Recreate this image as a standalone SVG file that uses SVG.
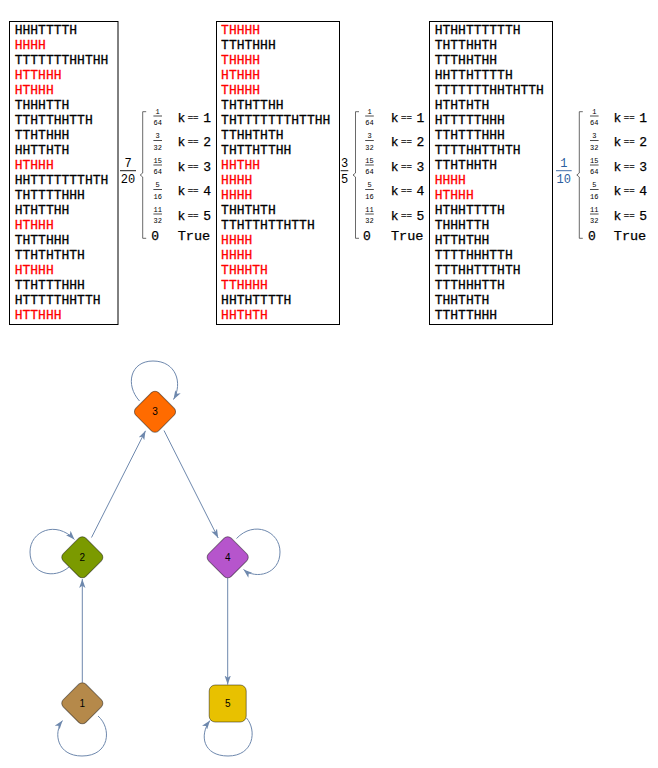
<svg xmlns="http://www.w3.org/2000/svg" width="658" height="768" viewBox="0 0 658 768">
<defs>
<style>
.box{fill:#fff;stroke:#000;stroke-width:1}
.seq{font-family:"Liberation Mono","DejaVu Sans Mono",monospace;font-size:13px;fill:#000;stroke:#000;stroke-width:0.3}
.seq .red{fill:#f00;stroke:#f00}
.pw{font-family:"Liberation Mono","DejaVu Sans Mono",monospace;fill:#000}
.sf{font-size:7px;text-anchor:middle}
.bf{font-size:12px;text-anchor:middle}
.kt{font-size:13px;stroke:#000;stroke-width:0.25}
.eq{font-size:9px}
.tr{font-size:13.5px;stroke:#000;stroke-width:0.25}
.blue{fill:#2c5fa0}
.brace{fill:none;stroke:#444;stroke-width:0.8}
.fl{stroke:#000;stroke-width:0.7}
.flb{stroke:#000;stroke-width:0.9}
.edge{fill:none;stroke:#6e88ad;stroke-width:1}
.nl{font-family:"Liberation Sans",Arial,sans-serif;font-size:10px;text-anchor:middle;fill:#000}
.node{stroke:#000;stroke-opacity:0.45;stroke-width:1}
</style>
<marker id="ah" viewBox="0 0 10 7" refX="10" refY="3.5" markerWidth="9" markerHeight="6.5" markerUnits="userSpaceOnUse" orient="auto"><path d="M0,0 L10,3.5 L0,7 L2.5,3.5 z" fill="#6e88ad"/></marker>
</defs>
<rect width="658" height="768" fill="#fff"/>

<g id="box1">
<rect class="box" x="9.5" y="21.5" width="108.5" height="303"/>
<text class="seq">
<tspan x="14.7" y="34">HHHTTTTH</tspan>
<tspan x="14.7" y="49" class="red">HHHH</tspan>
<tspan x="14.7" y="64">TTTTTTTHHTHH</tspan>
<tspan x="14.7" y="79" class="red">HTTHHH</tspan>
<tspan x="14.7" y="94" class="red">HTHHH</tspan>
<tspan x="14.7" y="109">THHHTTH</tspan>
<tspan x="14.7" y="124">TTHTTHHTTH</tspan>
<tspan x="14.7" y="139">TTHTHHH</tspan>
<tspan x="14.7" y="154">HHTTHTH</tspan>
<tspan x="14.7" y="169" class="red">HTHHH</tspan>
<tspan x="14.7" y="184">HHTTTTTTTHTH</tspan>
<tspan x="14.7" y="199">THTTTTHHH</tspan>
<tspan x="14.7" y="214">HTHTTHH</tspan>
<tspan x="14.7" y="229" class="red">HTHHH</tspan>
<tspan x="14.7" y="244">THTTHHH</tspan>
<tspan x="14.7" y="259">TTHTHTHTH</tspan>
<tspan x="14.7" y="274" class="red">HTHHH</tspan>
<tspan x="14.7" y="289">TTHTTTHHH</tspan>
<tspan x="14.7" y="304">HTTTTTHHTTH</tspan>
<tspan x="14.7" y="319" class="red">HTTHHH</tspan>
</text>
</g>

<g id="box2">
<rect class="box" x="216.5" y="21.5" width="123" height="303"/>
<text class="seq">
<tspan x="221.1" y="34" class="red">THHHH</tspan>
<tspan x="221.1" y="49">TTHTHHH</tspan>
<tspan x="221.1" y="64" class="red">THHHH</tspan>
<tspan x="221.1" y="79" class="red">HTHHH</tspan>
<tspan x="221.1" y="94" class="red">THHHH</tspan>
<tspan x="221.1" y="109">THTHTTHH</tspan>
<tspan x="221.1" y="124">THTTTTTTTHTTHH</tspan>
<tspan x="221.1" y="139">TTHHTHTH</tspan>
<tspan x="221.1" y="154">THTTHTTHH</tspan>
<tspan x="221.1" y="169" class="red">HHTHH</tspan>
<tspan x="221.1" y="184" class="red">HHHH</tspan>
<tspan x="221.1" y="199" class="red">HHHH</tspan>
<tspan x="221.1" y="214">THHTHTH</tspan>
<tspan x="221.1" y="229">TTHTTHTTHTTH</tspan>
<tspan x="221.1" y="244" class="red">HHHH</tspan>
<tspan x="221.1" y="259" class="red">HHHH</tspan>
<tspan x="221.1" y="274" class="red">THHHTH</tspan>
<tspan x="221.1" y="289" class="red">TTHHHH</tspan>
<tspan x="221.1" y="304">HHTHTTTTH</tspan>
<tspan x="221.1" y="319" class="red">HHTHTH</tspan>
</text>
</g>

<g id="box3">
<rect class="box" x="429.5" y="21.5" width="123" height="303"/>
<text class="seq">
<tspan x="434.7" y="34">HTHHTTTTTTH</tspan>
<tspan x="434.7" y="49">THTTHHTH</tspan>
<tspan x="434.7" y="64">TTTHHTHH</tspan>
<tspan x="434.7" y="79">HHTTHTTTTH</tspan>
<tspan x="434.7" y="94">TTTTTTTHHTHTTH</tspan>
<tspan x="434.7" y="109">HTHTHTH</tspan>
<tspan x="434.7" y="124">HTTTTTHHH</tspan>
<tspan x="434.7" y="139">TTHTTTHHH</tspan>
<tspan x="434.7" y="154">TTTTHHTTHTH</tspan>
<tspan x="434.7" y="169">TTHTHHTH</tspan>
<tspan x="434.7" y="184" class="red">HHHH</tspan>
<tspan x="434.7" y="199" class="red">HTHHH</tspan>
<tspan x="434.7" y="214">HTHHTTTTH</tspan>
<tspan x="434.7" y="229">THHHTTH</tspan>
<tspan x="434.7" y="244">HTTHTHH</tspan>
<tspan x="434.7" y="259">TTTTHHHTTH</tspan>
<tspan x="434.7" y="274">TTTHHTTTHTH</tspan>
<tspan x="434.7" y="289">TTTHHHTTH</tspan>
<tspan x="434.7" y="304">THHTHTH</tspan>
<tspan x="434.7" y="319">TTHTTHHH</tspan>
</text>
</g>

<g id="piecewise1" class="pw" transform="translate(142.7,0)">
<text class="bf" x="-14.7" y="166.7">7</text>
<line class="flb" x1="-22.7" y1="170.7" x2="-6.7" y2="170.7"/>
<text class="bf" x="-14.7" y="183.3">20</text>
<path class="brace" d="M3.5,111.7 H0 V173 L-2.5,175 L0,177 V238.3 H3.5"/>
<text class="sf" x="15" y="113.8">1</text><line class="fl" x1="10.7" y1="116" x2="19.3" y2="116"/><text class="sf" x="15" y="125">64</text>
<text class="sf" x="15" y="138.3">3</text><line class="fl" x1="10.7" y1="140.5" x2="19.3" y2="140.5"/><text class="sf" x="15" y="149.5">32</text>
<text class="sf" x="15" y="162.8">15</text><line class="fl" x1="10.7" y1="165" x2="19.3" y2="165"/><text class="sf" x="15" y="174">64</text>
<text class="sf" x="15" y="187.3">5</text><line class="fl" x1="10.7" y1="189.5" x2="19.3" y2="189.5"/><text class="sf" x="15" y="198.5">16</text>
<text class="sf" x="15" y="211.8">11</text><line class="fl" x1="10.7" y1="214" x2="19.3" y2="214"/><text class="sf" x="15" y="223">32</text>
<text class="kt"><tspan x="34.7" y="121.5">k</tspan><tspan class="eq" x="45" y="119.9">==</tspan><tspan x="60.5" y="121.5">1</tspan></text>
<text class="kt"><tspan x="34.7" y="146">k</tspan><tspan class="eq" x="45" y="144.4">==</tspan><tspan x="60.5" y="146">2</tspan></text>
<text class="kt"><tspan x="34.7" y="170.5">k</tspan><tspan class="eq" x="45" y="168.9">==</tspan><tspan x="60.5" y="170.5">3</tspan></text>
<text class="kt"><tspan x="34.7" y="195">k</tspan><tspan class="eq" x="45" y="193.4">==</tspan><tspan x="60.5" y="195">4</tspan></text>
<text class="kt"><tspan x="34.7" y="219.5">k</tspan><tspan class="eq" x="45" y="217.9">==</tspan><tspan x="60.5" y="219.5">5</tspan></text>
<text class="kt" x="12.5" y="240" text-anchor="middle">0</text>
<text class="tr" x="35" y="240">True</text>
</g>

<g id="piecewise2" class="pw" transform="translate(355.5,0)">
<text class="bf" x="-11" y="166.7">3</text>
<line class="flb" x1="-14.8" y1="170.7" x2="-7.2" y2="170.7"/>
<text class="bf" x="-11" y="183.3">5</text>
<path class="brace" d="M3.5,111.7 H0 V173 L-2.5,175 L0,177 V238.3 H3.5"/>
<text class="sf" x="14" y="113.8">1</text><line class="fl" x1="9.7" y1="116" x2="18.3" y2="116"/><text class="sf" x="14" y="125">64</text>
<text class="sf" x="14" y="138.3">3</text><line class="fl" x1="9.7" y1="140.5" x2="18.3" y2="140.5"/><text class="sf" x="14" y="149.5">32</text>
<text class="sf" x="14" y="162.8">15</text><line class="fl" x1="9.7" y1="165" x2="18.3" y2="165"/><text class="sf" x="14" y="174">64</text>
<text class="sf" x="14" y="187.3">5</text><line class="fl" x1="9.7" y1="189.5" x2="18.3" y2="189.5"/><text class="sf" x="14" y="198.5">16</text>
<text class="sf" x="14" y="211.8">11</text><line class="fl" x1="9.7" y1="214" x2="18.3" y2="214"/><text class="sf" x="14" y="223">32</text>
<text class="kt"><tspan x="35.2" y="121.5">k</tspan><tspan class="eq" x="45.5" y="119.9">==</tspan><tspan x="61" y="121.5">1</tspan></text>
<text class="kt"><tspan x="35.2" y="146">k</tspan><tspan class="eq" x="45.5" y="144.4">==</tspan><tspan x="61" y="146">2</tspan></text>
<text class="kt"><tspan x="35.2" y="170.5">k</tspan><tspan class="eq" x="45.5" y="168.9">==</tspan><tspan x="61" y="170.5">3</tspan></text>
<text class="kt"><tspan x="35.2" y="195">k</tspan><tspan class="eq" x="45.5" y="193.4">==</tspan><tspan x="61" y="195">4</tspan></text>
<text class="kt"><tspan x="35.2" y="219.5">k</tspan><tspan class="eq" x="45.5" y="217.9">==</tspan><tspan x="61" y="219.5">5</tspan></text>
<text class="kt" x="11.5" y="240" text-anchor="middle">0</text>
<text class="tr" x="35.5" y="240">True</text>
</g>

<g id="piecewise3" class="pw" transform="translate(579.3,0)">
<text class="bf blue" x="-15.5" y="166.7">1</text>
<line x1="-23.3" y1="170.7" x2="-7.6" y2="170.7" stroke="#2c5fa0" stroke-width="0.9"/>
<text class="bf blue" x="-15.5" y="183.3">10</text>
<path class="brace" d="M3.5,111.7 H0 V173 L-2.5,175 L0,177 V238.3 H3.5"/>
<text class="sf" x="15" y="113.8">1</text><line class="fl" x1="10.7" y1="116" x2="19.3" y2="116"/><text class="sf" x="15" y="125">64</text>
<text class="sf" x="15" y="138.3">3</text><line class="fl" x1="10.7" y1="140.5" x2="19.3" y2="140.5"/><text class="sf" x="15" y="149.5">32</text>
<text class="sf" x="15" y="162.8">15</text><line class="fl" x1="10.7" y1="165" x2="19.3" y2="165"/><text class="sf" x="15" y="174">64</text>
<text class="sf" x="15" y="187.3">5</text><line class="fl" x1="10.7" y1="189.5" x2="19.3" y2="189.5"/><text class="sf" x="15" y="198.5">16</text>
<text class="sf" x="15" y="211.8">11</text><line class="fl" x1="10.7" y1="214" x2="19.3" y2="214"/><text class="sf" x="15" y="223">32</text>
<text class="kt"><tspan x="34.2" y="121.5">k</tspan><tspan class="eq" x="44.5" y="119.9">==</tspan><tspan x="60" y="121.5">1</tspan></text>
<text class="kt"><tspan x="34.2" y="146">k</tspan><tspan class="eq" x="44.5" y="144.4">==</tspan><tspan x="60" y="146">2</tspan></text>
<text class="kt"><tspan x="34.2" y="170.5">k</tspan><tspan class="eq" x="44.5" y="168.9">==</tspan><tspan x="60" y="170.5">3</tspan></text>
<text class="kt"><tspan x="34.2" y="195">k</tspan><tspan class="eq" x="44.5" y="193.4">==</tspan><tspan x="60" y="195">4</tspan></text>
<text class="kt"><tspan x="34.2" y="219.5">k</tspan><tspan class="eq" x="44.5" y="217.9">==</tspan><tspan x="60" y="219.5">5</tspan></text>
<text class="kt" x="12.5" y="240" text-anchor="middle">0</text>
<text class="tr" x="34.5" y="240">True</text>
</g>

<g id="edges">
<path class="edge" d="M82.3,682.5 V579" marker-end="url(#ah)"/>
<path class="edge" d="M91.5,537.5 L145.5,430.8" marker-end="url(#ah)"/>
<path class="edge" d="M164,430.5 L218.2,538" marker-end="url(#ah)"/>
<path class="edge" d="M227.7,578 V684.5" marker-end="url(#ah)"/>
<path class="edge" d="M139.5,401 C125,385 130,361 153,361 C176,361 183,383 173.5,399.5" marker-end="url(#ah)"/>
<path class="edge" d="M69,567 C54,580 30,574 30,552 C30,531 56,520 74.5,539.5" marker-end="url(#ah)"/>
<path class="edge" d="M236.5,538.5 C254,520 280,531 280,552 C280,574 256,580 243.5,569.5" marker-end="url(#ah)"/>
<path class="edge" d="M98,716 C112,728 110,756 82,756 C57,756 53,733 62.5,720.5" marker-end="url(#ah)"/>
<path class="edge" d="M246.5,718 C257,730 254,756 228,756 C203,756 199,735 210,720.5" marker-end="url(#ah)"/>
</g>

<g id="node1">
<rect class="node" x="-16" y="-16" width="32" height="32" rx="5" transform="translate(82.3,703.3) rotate(45)" fill="#b5894a"/>
<text class="nl" x="82.3" y="706.8">1</text>
</g>
<g id="node2">
<rect class="node" x="-16" y="-16" width="32" height="32" rx="5" transform="translate(82.3,557.3) rotate(45)" fill="#7b9a00"/>
<text class="nl" x="82.3" y="560.8">2</text>
</g>
<g id="node3">
<rect class="node" x="-16" y="-16" width="32" height="32" rx="5" transform="translate(155,411.7) rotate(45)" fill="#ff6b00"/>
<text class="nl" x="155" y="415.2">3</text>
</g>
<g id="node4">
<rect class="node" x="-16" y="-16" width="32" height="32" rx="5" transform="translate(227.7,557.3) rotate(45)" fill="#b655cc"/>
<text class="nl" x="227.7" y="560.8">4</text>
</g>
<g id="node5">
<rect class="node" x="209.2" y="685" width="37" height="37" rx="6" fill="#e8c100"/>
<text class="nl" x="227.7" y="707">5</text>
</g>
</svg>
